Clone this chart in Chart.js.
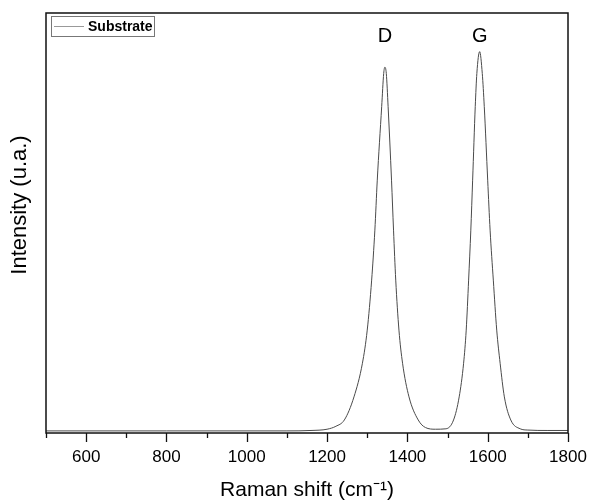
<!DOCTYPE html>
<html>
<head>
<meta charset="utf-8">
<script src="https://cdn.jsdelivr.net/npm/chart.js@4.4.1/dist/chart.umd.min.js"></script>
<style>
  html, body { margin: 0; padding: 0; background: #fff; }
  #wrap { width: 590px; height: 500px; }
</style>
</head>
<body>
<div id="wrap"><canvas id="ramanChart"></canvas></div>
<script>
// Raman shift (cm-1) and intensity (a.u.)
const ramanShift = [500, 800, 1100, 1160, 1200, 1222, 1243, 1267, 1288, 1300, 1311, 1319, 1325, 1336, 1341, 1344,
    1347.5, 1352, 1360.5, 1365.5, 1371, 1379, 1388, 1404, 1427, 1445, 1470, 1496, 1515, 1529, 1540,
    1546.5, 1552.5, 1558, 1562.5, 1569, 1573, 1580, 1586.5, 1591.5, 1600, 1606, 1614, 1622.5, 1631, 1641.5,
    1657.5, 1681, 1700, 1750, 1800];
const intensity = [5, 5, 5, 6, 9, 16, 31, 86, 166, 245, 364, 483, 602, 777, 856, 871,
    856, 777, 602, 483, 364, 245, 166, 86, 31, 13, 9, 10, 31, 86, 166,
    245, 364, 483, 602, 777, 856, 908, 856, 777, 602, 483, 364, 245, 166, 86,
    31, 10, 7, 6, 6];

const seriesName = 'Substrate';
const peakNames = ['D', 'G'];
const peakShift = [1344, 1580];
const peakLabelLevel = 944;
const yTitle = 'Intensity (u.a.)';

const fontFamily = "'Liberation Sans', Arial, Helvetica, sans-serif";
const lineColor = '#4a4a4a';

const points = ramanShift.map((x, i) => ({ x: x, y: intensity[i] }));

const framePlugin = {
    id: 'frame',
    afterDraw(chart) {
        const ctx = chart.ctx;
        const area = chart.chartArea;
        const xScale = chart.scales.x;
        const yScale = chart.scales.y;
        ctx.save();
        ctx.strokeStyle = '#111';
        ctx.lineWidth = 1.5;
        ctx.strokeRect(area.left, area.top, area.right - area.left, area.bottom - area.top);

        // outward ticks, long on labelled values
        ctx.lineWidth = 1.3;
        xScale.ticks.forEach(t => {
            const px = Math.round(xScale.getPixelForValue(t.value)) + 0.5;
            const len = t.value % 200 === 0 ? 9 : 5;
            ctx.beginPath();
            ctx.moveTo(px, area.bottom);
            ctx.lineTo(px, area.bottom + len);
            ctx.stroke();
        });

        // peak names
        ctx.fillStyle = '#000';
        ctx.font = '20px ' + fontFamily;
        ctx.textAlign = 'center';
        ctx.textBaseline = 'middle';
        peakNames.forEach((name, i) => {
            ctx.fillText(name, xScale.getPixelForValue(peakShift[i]), yScale.getPixelForValue(peakLabelLevel));
        });

        // y title, sits a bit above the middle
        ctx.save();
        ctx.translate(20, area.top + 192);
        ctx.rotate(-Math.PI / 2);
        ctx.font = '22px ' + fontFamily;
        ctx.fillText(yTitle, 0, 0);
        ctx.restore();

        // legend box
        const lx = area.left + 5, ly = area.top + 3;
        ctx.strokeStyle = '#777';
        ctx.lineWidth = 1;
        ctx.strokeRect(Math.round(lx) + 0.5, Math.round(ly) + 0.5, 103, 20);
        ctx.strokeStyle = '#999';
        ctx.beginPath();
        ctx.moveTo(lx + 3, ly + 10.5);
        ctx.lineTo(lx + 33, ly + 10.5);
        ctx.stroke();
        ctx.font = 'bold 14px ' + fontFamily;
        ctx.textAlign = 'left';
        ctx.fillText(seriesName, lx + 37, ly + 11);
        ctx.restore();
    }
};

new Chart(document.getElementById('ramanChart'), {
    type: 'line',
    data: {
        datasets: [{
            label: seriesName,
            data: points,
            borderColor: lineColor,
            borderWidth: 1,
            pointRadius: 0,
            fill: false,
            cubicInterpolationMode: 'monotone'
        }]
    },
    options: {
        responsive: true,
        maintainAspectRatio: false,
        animation: false,
        layout: {
            padding: { top: 13, right: 22, left: 0, bottom: 0 }
        },
        plugins: {
            tooltip: { enabled: false },
            legend: { display: false }
        },
        scales: {
            x: {
                type: 'linear',
                min: 500,
                max: 1800,
                grid: { display: false, drawTicks: false },
                border: { display: false },
                ticks: {
                    stepSize: 100,
                    autoSkip: false,
                    maxRotation: 0,
                    padding: 14,
                    color: '#000',
                    font: { family: fontFamily, size: 17 },
                    callback: value => value % 200 === 0 ? value : ''
                },
                title: {
                    display: true,
                    text: 'Raman shift (cm⁻¹)',
                    color: '#000',
                    font: { family: fontFamily, size: 21 },
                    padding: { top: 0, bottom: -3 }
                },
                afterFit: scale => {
                    scale.height = 67;
                    scale.paddingLeft = 0;
                    scale.paddingRight = 0;
                }
            },
            y: {
                min: 0,
                max: 1000,
                grid: { display: false, drawTicks: false },
                border: { display: false },
                ticks: { display: false },
                afterFit: scale => { scale.width = 46; }
            }
        }
    },
    plugins: [framePlugin]
});
</script>
</body>
</html>
